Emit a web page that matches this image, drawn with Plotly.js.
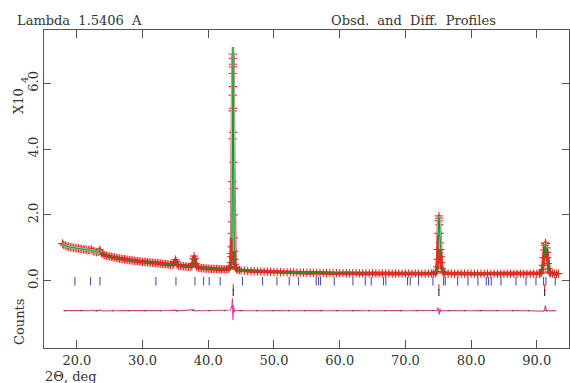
<!DOCTYPE html>
<html>
<head>
<meta charset="utf-8">
<script src="https://cdn.plot.ly/plotly-3.0.1.min.js"></script>
<style>html,body{margin:0;padding:0;background:#fff;}#chart{width:570px;height:383px;}</style>
</head>
<body>
<div id="chart"></div>
<script>
// ---- Data (counts vs 2-theta, deg) ----
const obsX = [17.8,18.0,18.25,18.5,18.75,19.0,19.25,19.5,19.75,20.0,20.25,20.5,20.75,21.0,21.25,21.5,21.75,22.0,22.25,22.5,22.75,23.0,23.25,23.5,23.75,24.0,24.25,24.5,24.75,25.0,25.25,25.5,25.75,26.0,26.25,26.5,26.75,27.0,27.25,27.5,27.75,28.0,28.25,28.5,28.75,29.0,29.25,29.5,29.75,30.0,30.25,30.5,30.75,31.0,31.25,31.5,31.75,32.0,32.25,32.5,32.75,33.0,33.25,33.5,33.75,34.0,34.25,34.5,34.75,34.9,35.0,35.1,35.25,35.5,35.75,36.0,36.25,36.5,36.75,37.0,37.25,37.5,37.65,37.75,37.85,37.95,38.05,38.2,38.5,38.75,39.0,39.25,39.5,39.75,40.0,40.25,40.5,40.75,41.0,41.25,41.5,41.75,42.0,42.25,42.5,42.75,43.0,43.2,43.35,
43.45,43.5,43.53,43.56,43.59,43.62,43.64,43.66,43.68,43.7,43.72,43.73,43.74,43.75,43.76,43.77,43.78,43.79,43.8,43.82,43.84,43.86,43.88,43.91,43.95,44.0,44.05,44.15,44.3,
44.5,44.75,45.0,45.5,46.0,46.5,47.0,47.5,48.0,48.5,49.0,49.5,50.0,50.5,51.0,51.5,52.0,52.5,53.0,53.5,54.0,54.5,55.0,55.5,56.0,56.5,57.0,57.5,58.0,58.5,59.0,59.5,60.0,60.5,61.0,61.5,62.0,62.5,63.0,63.5,64.0,64.5,65.0,65.5,66.0,66.5,67.0,67.5,68.0,68.5,69.0,69.5,70.0,70.5,71.0,71.5,72.0,72.5,73.0,73.5,74.0,74.3,
74.6,74.75,74.85,74.92,74.97,75.02,75.06,75.1,75.14,75.18,75.22,75.27,75.32,75.38,75.45,75.55,75.7,75.85,
76.0,76.5,77.0,77.5,78.0,78.5,79.0,79.5,80.0,80.5,81.0,81.5,82.0,82.5,83.0,83.5,84.0,84.5,85.0,85.5,86.0,86.5,87.0,87.5,88.0,88.5,89.0,89.5,90.0,90.4,
90.6,90.75,90.85,90.95,91.05,91.15,91.22,91.3,91.37,91.45,91.52,91.6,91.7,91.8,91.9,92.0,
92.1,92.4,92.7,93.0,93.3];
const obsY = [11300,10900,10750,10400,10350,10150,10150,9950,9950,9800,9850,9650,9700,9500,9550,9350,9300,9400,9500,9000,8900,8700,8800,9400,8400,7950,7800,7600,7550,7350,7300,7100,7100,6900,6900,6700,6700,6550,6550,6400,6400,6250,6250,6100,6100,5950,5950,5850,5850,5700,5750,5650,5650,5550,5550,5450,5450,5350,5350,5250,5250,5150,5100,5050,5000,4900,4900,4800,5000,5700,6400,5900,4900,4550,4500,4400,4400,4300,4300,4200,4250,4350,5200,6600,7500,6700,5200,4300,3950,3900,3800,3800,3700,3700,3650,3650,3600,3600,3550,3550,3500,3500,3450,3500,3450,3500,3550,3700,4300,
5500,7300,8300,10300,14400,17900,24000,30100,43100,51600,56400,59000,63000,65800,67600,68900,65000,59000,52400,45100,36000,28000,20000,13000,9000,6500,5000,4000,3500,
3350,3250,3150,3050,3000,2950,2900,2850,2800,2750,2750,2700,2650,2650,2600,2600,2550,2550,2500,2500,2450,2450,2400,2450,2400,2350,2400,2350,2300,2350,2300,2300,2250,2300,2250,2250,2300,2250,2250,2200,2250,2200,2250,2200,2200,2250,2200,2200,2150,2200,2200,2150,2200,2200,2150,2200,2150,2200,2150,2200,2200,2250,
2300,2800,4200,6500,9500,14400,18200,19700,19000,17000,14400,11500,9500,7300,5500,3800,2700,2400,
2300,2200,2200,2150,2200,2150,2150,2200,2150,2150,2150,2100,2150,2150,2100,2150,2100,2150,2100,2100,2150,2100,2100,2150,2100,2100,2100,2150,2100,2150,
2250,2600,3300,4700,7000,9300,10800,11500,11300,10000,8600,7000,5200,3600,2700,2400,
2300,2150,2100,2100,2150];

const calcX = [17.8,18.5,19.5,20.5,21.5,22.0,22.2,22.4,23.0,23.35,23.5,23.65,24.0,24.5,25.0,25.5,26.0,26.5,27.0,27.5,28.0,28.5,29.0,29.5,30.0,30.5,31.0,31.5,32.0,32.5,33.0,33.5,34.0,34.5,34.8,34.92,35.0,35.08,35.2,35.5,36.0,36.5,37.0,37.5,37.68,37.8,37.88,37.98,38.1,38.3,38.5,39.0,39.5,40.0,41.0,42.0,42.8,43.2,43.4,43.5,43.6,43.66,43.72,43.76,43.79,43.82,43.86,43.9,43.96,44.05,44.2,44.5,45.0,46.0,47.0,48.0,49.0,50.0,51.0,52.0,53.0,54.0,55.0,56.0,58.0,60.0,62.0,64.0,66.0,68.0,70.0,72.0,74.0,74.5,74.75,74.9,75.0,75.1,75.17,75.25,75.35,75.45,75.6,75.8,76.0,78.0,80.0,82.0,84.0,86.0,88.0,90.0,90.6,90.8,90.95,91.1,91.25,91.35,91.45,91.55,91.7,91.85,92.0,92.3,93.3];
const calcY = [11100,10450,10000,9680,9380,9250,9350,9100,8750,8700,9250,8500,7950,7620,7350,7120,6920,6730,6560,6410,6260,6120,5980,5850,5730,5630,5540,5450,5360,5270,5160,5060,4930,4820,4850,5700,6200,5700,4850,4580,4430,4320,4230,4300,5400,7100,7300,6200,4700,4050,3960,3820,3720,3660,3560,3480,3480,3650,4300,6000,13000,30000,58000,71000,64000,48000,30000,18000,9000,5600,4000,3350,3150,3000,2900,2800,2740,2660,2600,2550,2500,2450,2410,2380,2320,2280,2250,2230,2210,2190,2180,2170,2180,2300,2900,6000,14000,19600,18500,13500,9600,6000,3300,2500,2260,2160,2140,2130,2120,2110,2110,2110,2250,2800,4500,8000,11000,11400,9800,8000,5000,3100,2400,2150,2120];

const diffX = [18,19,20,21,22,22.2,23,23.5,24,25,26,27,28,29,30,31,32,33,34,35,35.2,36,37,37.8,38,38.5,39,40,41,42,43,43.4,43.6,43.68,43.72,43.76,43.8,43.86,43.92,44.0,44.2,44.6,45,46,47,48,49,50,51,52,53,54,55,56,57,58,59,60,61,62,63,64,65,66,67,68,69,70,71,72,73,74,74.8,74.95,75.05,75.15,75.25,75.4,75.6,76,77,78,79,80,81,82,83,84,85,86,87,88,89,90,90.8,91.0,91.2,91.3,91.38,91.5,91.7,92.0,92.5,93.0];
const diffRes = [0,60,-40,50,-30,120,-60,150,-80,40,-30,20,60,-40,30,-20,40,-30,20,150,-80,30,-20,300,-150,50,-20,30,-30,20,40,200,1500,3800,-1500,-2800,1800,-600,800,-300,100,-40,30,-30,20,-20,30,-30,40,-20,30,-20,20,-30,40,-20,30,-20,20,-30,20,-20,30,-30,20,-20,30,-20,20,-30,20,-20,100,900,-800,-1200,600,-200,60,-20,30,-30,20,-20,30,-20,20,-30,20,-20,30,-20,20,-20,60,-150,400,1600,900,-300,150,-50,20,-20];

const phase1Ticks = [19.70,22.08,23.51,32.03,35.08,37.97,39.28,40.14,41.82,45.21,48.26,50.45,52.32,53.74,56.43,56.78,57.09,59.17,62.02,63.89,64.80,66.67,67.03,70.33,70.74,72.00,74.19,75.81,76.07,77.94,79.52,81.04,82.31,82.66,83.07,84.55,86.83,88.35,89.87,91.03,91.39,92.81];
const phase2Ticks = [43.8,75.1,91.2];

const xTickVals = [20,30,40,50,60,70,80,90];
const xTickText = ['20.0','30.0','40.0','50.0','60.0','70.0','80.0','90.0'];
const yTickVals = [0,20000,40000,60000];
const yTickText = ['0.0','2.0','4.0','6.0'];

// ---- Display constants ----
const DIFF_OFFSET = -9100;
const TICK1_Y = -150;
const TICK2_RED_Y = -1900;
const TICK2_BLK_Y = -3600;
const FONT = 'DejaVu Serif';
const TXT = '#333333';

const diffPlotY = diffRes.map(v => v + DIFF_OFFSET);
const calcPeakY = calcY.map(v => v > 8000 ? v : null);
const dx0 = Math.min(...diffX), dx1 = Math.max(...diffX);

const traces = [
  { x: obsX, y: obsY, type: 'scatter', mode: 'lines+markers',
    line: { color: '#f03024', width: 3.8 },
    marker: { symbol: 'cross-thin', size: 6, line: { color: '#ee1c1c', width: 1 } }, hoverinfo: 'skip' },
  { x: calcX, y: calcPeakY, type: 'scatter', mode: 'lines', connectgaps: false,
    line: { color: '#8fd6a0', width: 3 }, hoverinfo: 'skip' },
  { x: calcX, y: calcY, type: 'scatter', mode: 'lines',
    line: { color: '#1f8f3a', width: 1.1 }, hoverinfo: 'skip' },
  { x: diffX, y: diffPlotY, type: 'scatter', mode: 'lines',
    line: { color: '#d9449b', width: 1.1 }, hoverinfo: 'skip' },
  { x: [dx0, dx1], y: [DIFF_OFFSET, DIFF_OFFSET], type: 'scatter', mode: 'lines',
    line: { color: '#444444', width: 1, dash: '2px,14px' }, hoverinfo: 'skip' },
  { x: phase1Ticks, y: phase1Ticks.map(() => TICK1_Y), type: 'scatter', mode: 'markers',
    marker: { symbol: 'line-ns', size: 6, line: { color: '#5252b8', width: 1.1 } }, hoverinfo: 'skip' },
  { x: phase2Ticks, y: phase2Ticks.map(() => TICK2_RED_Y), type: 'scatter', mode: 'markers',
    marker: { symbol: 'line-ns', size: 4, line: { color: '#e8221e', width: 1.1 } }, hoverinfo: 'skip' },
  { x: phase2Ticks, y: phase2Ticks.map(() => TICK2_BLK_Y), type: 'scatter', mode: 'markers',
    marker: { symbol: 'line-ns', size: 5, line: { color: '#222222', width: 1.1 } }, hoverinfo: 'skip' }
];

const axisCommon = {
  showline: true, linecolor: '#555555', linewidth: 1, mirror: 'ticks',
  ticks: 'inside', tickcolor: '#555555', tickwidth: 1,
  showgrid: false, zeroline: false,
  tickfont: { family: FONT, size: 13, color: TXT }
};

const px = p => (p - 44) / 525;
const py = p => (348 - p) / 318;

const layout = {
  width: 570, height: 383,
  margin: { l: 44, r: 1, t: 30, b: 35 },
  paper_bgcolor: '#ffffff', plot_bgcolor: '#ffffff',
  showlegend: false,
  xaxis: Object.assign({}, axisCommon, { range: [15, 94.9], tickvals: xTickVals, ticktext: xTickText, ticklen: 8 }),
  yaxis: Object.assign({}, axisCommon, { range: [-20450, 76200], tickvals: yTickVals, ticktext: yTickText, ticklen: 7, tickangle: -90 }),
  annotations: [
    { text: 'Lambda\u00a0 1.5406\u00a0 A', xref: 'paper', yref: 'paper', x: px(15), y: py(21), xanchor: 'left', yanchor: 'middle', showarrow: false, font: { family: FONT, size: 13, color: TXT } },
    { text: 'Obsd.\u00a0 and\u00a0 Diff.\u00a0 Profiles', xref: 'paper', yref: 'paper', x: px(329), y: py(21), xanchor: 'left', yanchor: 'middle', showarrow: false, font: { family: FONT, size: 13, color: TXT } },
    { text: 'X10', xref: 'paper', yref: 'paper', x: px(19), y: py(101), xanchor: 'center', yanchor: 'middle', textangle: -90, showarrow: false, font: { family: FONT, size: 13, color: TXT } },
    { text: '4', xref: 'paper', yref: 'paper', x: px(25), y: py(80), xanchor: 'center', yanchor: 'middle', textangle: -90, showarrow: false, font: { family: FONT, size: 10, color: TXT } },
    { text: 'Counts', xref: 'paper', yref: 'paper', x: px(19), y: py(322), xanchor: 'center', yanchor: 'middle', textangle: -90, showarrow: false, font: { family: FONT, size: 13, color: TXT } },
    { text: '2\u0398, deg', xref: 'paper', yref: 'paper', x: px(43), y: py(376), xanchor: 'left', yanchor: 'middle', showarrow: false, font: { family: FONT, size: 13, color: TXT } }
  ]
};

Plotly.newPlot('chart', traces, layout, { displayModeBar: false, staticPlot: true });
</script>
</body>
</html>
